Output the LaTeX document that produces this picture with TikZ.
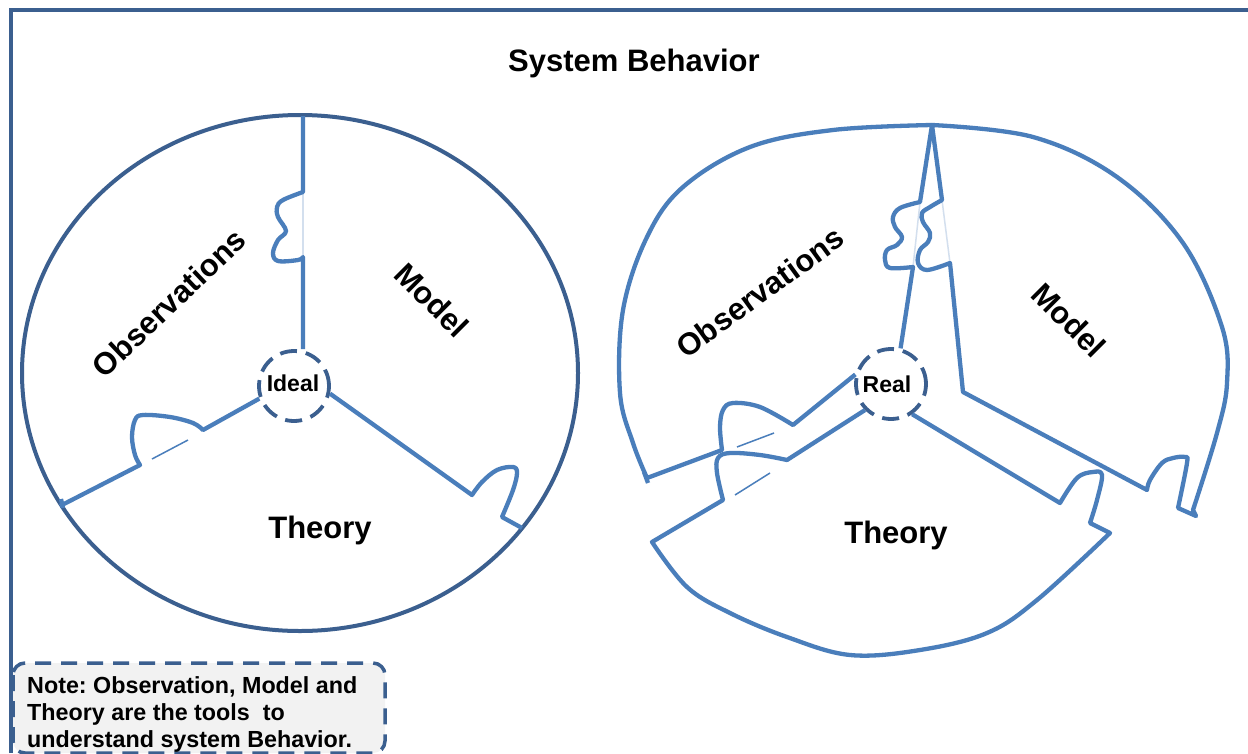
\documentclass[tikz,border=0pt]{standalone}
\usepackage{fontspec}
\setmainfont{Liberation Sans}
\frenchspacing
\definecolor{darkblue}{HTML}{3B5F8F}
\definecolor{lineblue}{HTML}{4A7EBB}
\definecolor{faintblue}{HTML}{D3DFEE}
\definecolor{notefill}{HTML}{F2F2F2}
\tikzset{
  frame/.style={draw=darkblue, line width=4pt},
  rim/.style={draw=darkblue, line width=4pt},
  seg/.style={draw=lineblue, line width=4.3pt, line join=round},
  thinseg/.style={draw=lineblue, line width=1.5pt},
  faintseg/.style={draw=faintblue, line width=1.5pt},
  hub/.style={circle, draw=darkblue, line width=3.8pt, dash pattern=on 17pt off 9pt,
              minimum size=70pt, inner sep=0pt, fill=white},
  hubtext/.style={font=\bfseries\fontsize{23}{26}\selectfont, inner sep=0pt},
  lbl/.style={font=\bfseries\fontsize{31}{36}\selectfont, inner sep=0pt},
  notebox/.style={draw=darkblue, line width=3.5pt, dash pattern=on 16pt off 10pt,
                  fill=notefill, rounded corners=12pt},
  notetext/.style={font=\bfseries\fontsize{23.3}{27}\selectfont, inner sep=0pt, anchor=base west},
}
\begin{document}
\begin{tikzpicture}[x=1pt, y=-1pt]
\useasboundingbox (0,0) rectangle (1248,753);
\fill[white] (0,0) rectangle (1248,753);

% outer frame
\draw[frame] (11,753) -- (11,10) -- (1248,10);

% title
\node[font=\bfseries\fontsize{31}{36}\selectfont, inner sep=0pt] (title) at (634,63) {System Behavior};

% ================= LEFT (Ideal) =================
\draw[rim] (300,373) ellipse [x radius=278pt, y radius=258pt];
\node[hub] (ideal) at (294,386) {};
\node[hubtext] (idealtxt) at (293,383) {Ideal};

% vertical boundary with tab
\draw[faintseg] (303,192) -- (303,257);
\draw[seg] (303,116) -- (303,192)
  -- plot[smooth, tension=0.6] coordinates {(303,192) (283,200) (277,207) (278,217) (286,231) (278,240) (273,253) (278,261) (298,260) (303,257)}
  -- (ideal.north -| 303,0);
% lower-left boundary with tab
\draw[seg] (ideal.200) -- (203,430)
  -- plot[smooth, tension=0.6] coordinates {(203,430) (193,423) (170,417) (143,415) (135,420) (132,437) (135,455) (140,465)}
  -- (60,506);
\draw[seg] (61,499) -- (63,508);
\draw[thinseg] (152,459) -- (188,440);
% lower-right boundary with tab
\draw[seg] (ideal.-12) -- (472,495)
  -- plot[smooth, tension=0.6] coordinates {(472,495) (482,482) (497,470) (513,467) (517,473) (513,490) (502,517)}
  -- (522,528);

\node[lbl, rotate=43.5] (obsL) at (169,303) {Observations};
\node[lbl, rotate=-45] (modL) at (432,300) {Model};
\node[lbl] (thL) at (320,530) {Theory};

% ================= RIGHT (Real) =================
\node[hub] (real) at (891,384) {};
\node[hubtext] (realtxt) at (887,384) {Real};

% Observations piece
\draw[seg] plot[smooth, tension=0.6] coordinates {(932,125) (833,130) (750,147) (683,187) (647,237) (623,310) (620,393) (633,443) (647,478)}
  -- (722,450)
  -- plot[smooth, tension=0.6] coordinates {(722,450) (720,427) (723,410) (733,403) (760,407) (793,425)}
  -- (real.165);
\draw[seg] (644,472) -- (648,483);
\draw[faintseg] (920,202) -- (913,267);
\draw[seg] (real.75) -- (913,267)
  -- plot[smooth, tension=0.6] coordinates {(913,267) (890,268) (885,260) (887,250) (897,245) (902,237) (895,227) (893,217) (900,208) (920,202)}
  -- (932,125);
\draw[thinseg] (737,447) -- (774,433);

% Model piece
\draw[faintseg] (942,200) -- (950,263);
\draw[seg] plot[smooth, tension=0.6] coordinates {(932,125) (1033,137) (1117,177) (1183,243) (1222,327) (1227,383) (1217,433) (1193,510)}
  -- (1196,516) -- (1178,508)
  -- plot[smooth, tension=0.6] coordinates {(1178,508) (1187,463) (1185,457) (1173,458) (1162,463) (1150,480) (1147,490)}
  -- (963,392) -- (950,263)
  -- plot[smooth, tension=0.6] coordinates {(950,263) (927,270) (918,263) (920,250) (928,242) (930,233) (923,222) (922,213) (930,207) (942,200)}
  -- cycle;

% Theory piece
\draw[seg] (real.225) -- (787,460)
  -- plot[smooth, tension=0.6] coordinates {(787,460) (760,455) (730,453) (718,458) (717,473) (723,500)}
  -- (652,542)
  -- plot[smooth, tension=0.6] coordinates {(652,542) (687,587) (730,613) (787,637) (850,655) (920,650) (987,633) (1037,600) (1110,533)}
  -- (1090,523)
  -- plot[smooth, tension=0.6] coordinates {(1090,523) (1097,500) (1102,475) (1093,472) (1077,478) (1060,503)}
  -- (real.-55);
\draw[thinseg] (735,495) -- (770,473);

\node[lbl, rotate=36] (obsR) at (760,292) {Observations};
\node[lbl, rotate=-45] (modR) at (1069,320) {Model};
\node[lbl] (thR) at (896,535) {Theory};

% ================= NOTE =================
\draw[notebox] (13,663) rectangle (385,753);
\node[notetext] (n1) at (27,693) {Note: Observation, Model and};
\node[notetext] (n2) at (27,720) {Theory are the tools\ \ to};
\node[notetext] (n3) at (27,747) {understand system Behavior.};
\end{tikzpicture}
\end{document}
